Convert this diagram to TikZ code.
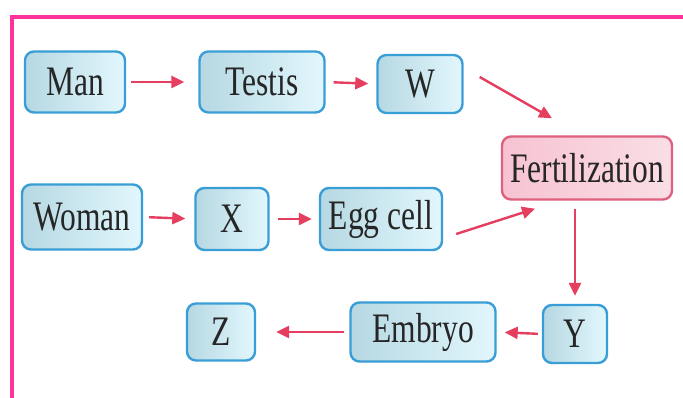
\documentclass[tikz,border=0pt]{standalone}
\usepackage{fontspec}
\usepackage{graphicx}
\setmainfont{Liberation Serif}
\usetikzlibrary{arrows.meta,calc}
\definecolor{boxblue}{HTML}{3A9ED6}
\definecolor{fillL}{HTML}{B6D8E2}
\definecolor{fillR}{HTML}{E2F7FD}
\definecolor{pinkfill}{HTML}{F6C3D1}
\definecolor{pinkline}{HTML}{E0607F}
\definecolor{arr}{HTML}{E63E5E}
\definecolor{frame}{HTML}{FF3399}
\newcommand{\lbl}[1]{\scalebox{0.75}[1]{#1}}
\tikzset{
  bx/.style={draw=boxblue, line width=2.4pt, rounded corners=9pt,
    left color=fillL, right color=fillR, font=\fontsize{42}{44}\selectfont,
    inner sep=0pt, align=center, text=black!85},
  fz/.style={draw=pinkline, line width=2.4pt, rounded corners=9pt,
    left color=pinkfill, right color=pinkfill!55!white, font=\fontsize{42}{44}\selectfont,
    inner sep=0pt, text=black!85},
  ar/.style={draw=arr, line width=2.4pt, -{Triangle[length=13pt,width=12pt]}}
}
\begin{document}
\begin{tikzpicture}[x=1pt,y=1pt]
\useasboundingbox (0,0) rectangle (683,398);
\fill[white] (0,0) rectangle (683,398);
\draw[frame, line width=4pt] (12,-5) -- (12,381) -- (690,381);
% top row
\node[bx, minimum width=100pt, minimum height=61pt] (man) at (75,316) {\lbl{Man}};
\node[bx, minimum width=125pt, minimum height=61pt] (testis) at (262,316) {\lbl{Testis}};
\node[bx, minimum width=85pt, minimum height=58pt] (w) at (420,314) {\lbl{W}};
\node[fz, minimum width=170pt, minimum height=63pt] (fert) at (587,230) {\lbl{Fertilization}};
% middle row
\node[bx, minimum width=120pt, minimum height=65pt] (woman) at (82,181) {\lbl{Woman}};
\node[bx, minimum width=73pt, minimum height=62pt] (x) at (232,179) {\lbl{X}};
\node[bx, minimum width=122pt, minimum height=62pt] (egg) at (381,179) {\lbl{Egg cell}};
% bottom row
\node[bx, minimum width=68pt, minimum height=57pt] (z) at (221,66) {\lbl{Z}};
\node[bx, minimum width=145pt, minimum height=59pt] (embryo) at (423,66) {\lbl{Embryo}};
\node[bx, minimum width=64pt, minimum height=58pt] (y) at (575,64) {\lbl{Y}};
% arrows
\draw[ar, shorten <=5pt, shorten >=14pt] (man.east) -- (testis.west);
\draw[ar, shorten <=8pt, shorten >=8pt] (testis.east) -- (w.west);
\draw[ar] ([xshift=16pt,yshift=7pt]w.east) -- ([xshift=-35pt,yshift=17pt]fert.north);
\draw[ar, shorten <=6pt, shorten >=9pt] (woman.east) -- (x.west);
\draw[ar, shorten <=8pt, shorten >=7pt] (x.east) -- (egg.west);
\draw[ar] ([xshift=13pt,yshift=-15pt]egg.east) -- ([xshift=-52pt,yshift=-8pt]fert.south);
\draw[ar, shorten <=8pt, shorten >=8pt] (y.north |- fert.south) -- (y.north);
\draw[ar, shorten <=4pt, shorten >=8pt] (y.west) -- (embryo.east);
\draw[ar, shorten <=5pt, shorten >=20pt] (embryo.west) -- (z.west -| z.east);
\end{tikzpicture}
\end{document}
